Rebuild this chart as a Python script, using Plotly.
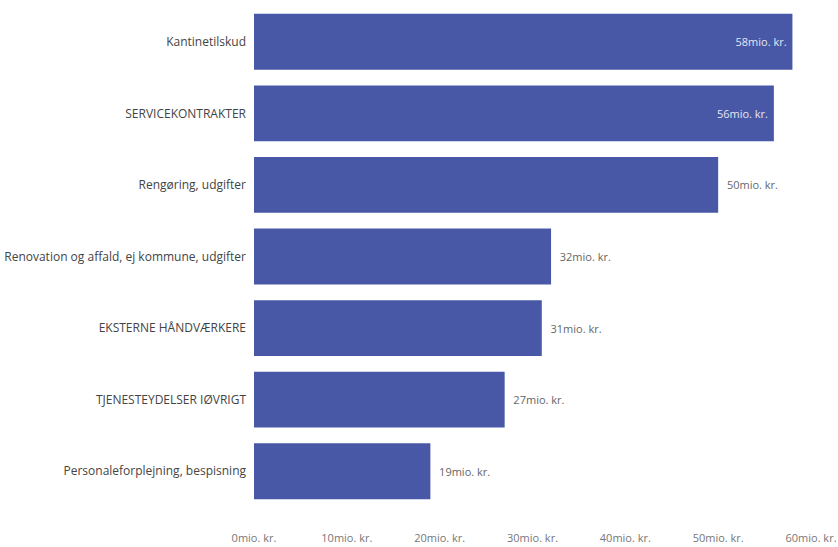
import plotly.graph_objects as go

categories = [
    "Kantinetilskud",
    "SERVICEKONTRAKTER",
    "Rengøring, udgifter",
    "Renovation og affald, ej kommune, udgifter",
    "EKSTERNE HÅNDVÆRKERE",
    "TJENESTEYDELSER IØVRIGT",
    "Personaleforplejning, bespisning",
]
values = [58, 56, 50, 32, 31, 27, 19]
tick_values = [0, 10, 20, 30, 40, 50, 60]
tick_labels = [f"{v}mio. kr." for v in tick_values]

# largest bars carry their label inside, the rest outside
positions = ["inside" if v >= 55 else "outside" for v in values]
text_colors = ["#e4e7f3" if p == "inside" else "#666666" for p in positions]
pad = "\u00a0"
labels = [
    (f"{v}mio. kr.{pad}" if p == "inside" else f"{pad}{pad}{v}mio. kr.")
    for v, p in zip(values, positions)
]

fig = go.Figure(
    go.Bar(
        x=values,
        y=categories,
        orientation="h",
        marker=dict(color="#4858a6", line=dict(width=0)),
        text=labels,
        textposition=positions,
        insidetextanchor="end",
        textfont=dict(family="Open Sans", size=11, color=text_colors),
        cliponaxis=False,
        hoverinfo="skip",
    )
)

fig.update_layout(
    width=838,
    height=547,
    margin=dict(l=254, r=27, t=6, b=40),
    paper_bgcolor="white",
    plot_bgcolor="white",
    bargap=0.22,
    showlegend=False,
    font=dict(family="Open Sans", color="#555555"),
)

fig.update_xaxes(
    range=[0, 60],
    tickvals=tick_values,
    ticktext=tick_labels,
    showgrid=False,
    zeroline=False,
    showline=False,
    ticks="",
    automargin=False,
    ticklabelstandoff=23,
    tickfont=dict(family="Open Sans", size=11, color="#777777"),
)

fig.update_yaxes(
    autorange="reversed",
    showgrid=False,
    zeroline=False,
    showline=False,
    ticks="",
    automargin=False,
    ticklabelstandoff=7,
    tickfont=dict(family="Open Sans", size=12, color="#444444"),
)

fig.write_html("out.html")
